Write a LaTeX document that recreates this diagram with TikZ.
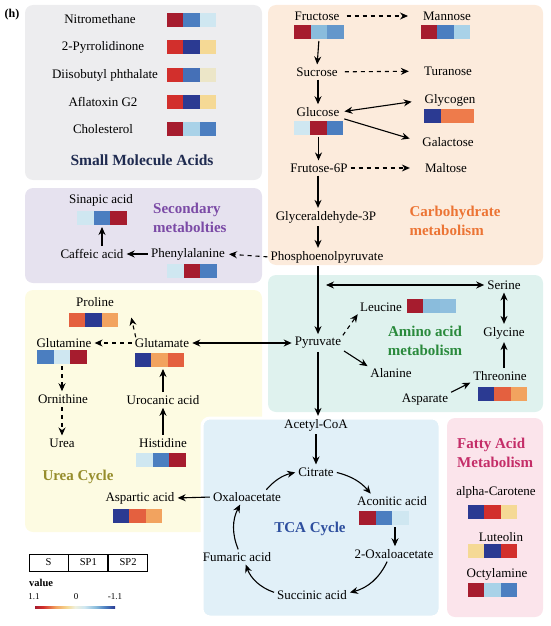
\documentclass[tikz,border=0pt]{standalone}
\usepackage{fontspec}
\setmainfont{Liberation Serif}
\usetikzlibrary{arrows.meta,positioning,calc}
% panel fills
\definecolor{PanelGray}{HTML}{EDEDEF}
\definecolor{PanelPeach}{HTML}{FCEBDC}
\definecolor{PanelLilac}{HTML}{E6E2EF}
\definecolor{PanelCream}{HTML}{FDFBE2}
\definecolor{PanelMint}{HTML}{DFF2EE}
\definecolor{PanelSky}{HTML}{E1F0F8}
\definecolor{PanelPink}{HTML}{FBE4EB}
% group titles
\definecolor{TitleNavy}{HTML}{1F2B50}
\definecolor{TitleOrange}{HTML}{EC7434}
\definecolor{TitlePurple}{HTML}{7B4AA6}
\definecolor{TitleGreen}{HTML}{2A8A3C}
\definecolor{TitleOlive}{HTML}{968D2C}
\definecolor{TitleBlue}{HTML}{2D4E9E}
\definecolor{TitleMagenta}{HTML}{C42D68}
% heat cells
\definecolor{HeatDR}{HTML}{A61C2E}
\definecolor{HeatR}{HTML}{D22F2C}
\definecolor{HeatOR}{HTML}{E4603F}
\definecolor{HeatO}{HTML}{EE7B4B}
\definecolor{HeatLO}{HTML}{F2A35F}
\definecolor{HeatPY}{HTML}{F5D995}
\definecolor{HeatVY}{HTML}{ECE6C8}
\definecolor{HeatMid}{HTML}{EEF0DE}
\definecolor{HeatVB}{HTML}{CFE7F1}
\definecolor{HeatLB}{HTML}{A9D2E8}
\definecolor{HeatSB}{HTML}{8ABCDC}
\definecolor{HeatMB}{HTML}{4B7EC0}
\definecolor{HeatDB}{HTML}{2B3A92}
\pgfdeclarehorizontalshading{rdylbu}{10bp}{color(0bp)=(HeatDR); color(25bp)=(HeatDR); color(30bp)=(HeatR); color(38bp)=(HeatLO); color(45bp)=(HeatPY); color(50bp)=(HeatMid); color(56bp)=(HeatVB); color(63bp)=(HeatSB); color(69bp)=(HeatMB); color(75bp)=(HeatDB); color(100bp)=(HeatDB)}
% three-cell heat strip: name, x, y, S, SP1, SP2
\newcommand{\heatrow}[6]{%
  \node[heatcell, fill=#4] (#1-a) at (#2-16.5,#3) {};
  \node[heatcell, fill=#5] (#1) at (#2,#3) {};
  \node[heatcell, fill=#6] (#1-c) at (#2+16.5,#3) {};}

\begin{document}
\begin{tikzpicture}[x=1pt,y=-1pt,
    met/.style={font=\fontsize{13}{15}\selectfont, inner sep=1pt},
    grp/.style={font=\bfseries\fontsize{15}{19}\selectfont, align=left, inner sep=1pt},
    heatcell/.style={minimum width=16.6pt, minimum height=14pt, inner sep=0pt, outer sep=0pt},
    arr/.style={-{Stealth[length=8pt,width=7pt]}, line width=1.1pt, shorten <=2pt, shorten >=2pt},
    darr/.style={arr, dash pattern=on 4pt off 4pt},
    barr/.style={{Stealth[length=8pt,width=7pt]}-{Stealth[length=8pt,width=7pt]}, line width=1.1pt, shorten <=2pt, shorten >=2pt},
    legcell/.style={draw, line width=0.8pt, minimum width=39pt, minimum height=17pt, inner sep=0pt, font=\fontsize{10.5}{12}\selectfont}]
  \useasboundingbox (0,0) rectangle (550,626);

  % panels
  \fill[PanelGray, rounded corners=8pt] (25,5) rectangle (262,180);
  \fill[PanelPeach, rounded corners=8pt] (268,5) rectangle (543,265);
  \fill[PanelLilac, rounded corners=8pt] (25,188) rectangle (262,283);
  \fill[PanelCream, rounded corners=8pt] (25,290) rectangle (262,532);
  \fill[PanelMint, rounded corners=8pt] (268,275) rectangle (543,412);
  \filldraw[fill=PanelSky, draw=white, line width=3pt, rounded corners=8pt] (202,418) rectangle (440,617);
  \fill[PanelPink, rounded corners=8pt] (447,418) rectangle (543,617);

  \node[font=\bfseries\fontsize{12}{14}\selectfont] (tag) at (12,15) {(h)};

  % small molecule acids
  \node[met] (nitro) at (100,19) {Nitromethane};
  \node[met] (pyrro) at (103,47) {2-Pyrrolidinone};
  \node[met] (dibp) at (105,75) {Diisobutyl phthalate};
  \node[met] (afla) at (103,102) {Aflatoxin G2};
  \node[met] (chol) at (103,129) {Cholesterol};
  \heatrow{nitro-h}{191.5}{20}{HeatDR}{HeatMB}{HeatVB}
  \heatrow{pyrro-h}{191.5}{47}{HeatR}{HeatDB}{HeatPY}
  \heatrow{dibp-h}{191.5}{75}{HeatR}{HeatMB!80!HeatDB}{HeatVY}
  \heatrow{afla-h}{191.5}{102}{HeatR}{HeatDB}{HeatPY}
  \heatrow{chol-h}{191.5}{129}{HeatDR}{HeatLB}{HeatMB}
  \node[grp, font=\bfseries\fontsize{15.5}{19}\selectfont, text=TitleNavy] (t-sma) at (142,160) {Small Molecule Acids};

  % carbohydrate metabolism
  \node[met] (fru) at (317,16) {Fructose};
  \heatrow{fru-h}{319}{32}{HeatDR}{HeatSB}{HeatMB!60!HeatSB}
  \node[met] (man) at (447,16) {Mannose};
  \heatrow{man-h}{445.5}{32}{HeatDR}{HeatMB}{HeatLB}
  \node[met] (suc) at (317,72) {Sucrose};
  \node[met] (tur) at (448,71) {Turanose};
  \node[met] (glc) at (318,112) {Glucose};
  \heatrow{glc-h}{318.5}{127.5}{HeatVB}{HeatDR}{HeatMB}
  \node[met] (glyc) at (450,100) {Glycogen};
  \heatrow{glyc-h}{449}{115.5}{HeatDB}{HeatO}{HeatO}
  \node[met] (gal) at (448,142) {Galactose};
  \node[met] (f6p) at (319,168) {Frutose-6P};
  \node[met] (mal) at (446,168) {Maltose};
  \node[met] (g3p) at (326,217) {Glyceraldehyde-3P};
  \node[met] (pep) at (327,257) {Phosphoenolpyruvate};
  \node[grp, text=TitleOrange] (t-carb) at (455,221) {Carbohydrate\\metabolism};

  \draw[darr, shorten <=6pt, shorten >=14pt] (fru) -- (man);
  \draw[darr, shorten <=6pt, shorten >=14pt] (suc) -- (tur);
  \draw[darr, shorten <=2pt, shorten >=14pt] (f6p) -- (mal);
  \draw[arr] (fru-h.south) -- (suc.north);
  \draw[arr] (suc.south -| glc) -- (glc.north);
  \draw[barr, shorten <=4pt, shorten >=12pt] (glc.east) -- (glyc.west);
  \draw[arr, shorten <=4pt, shorten >=12pt] (glc.south east) -- (gal.west);
  \draw[arr] (glc-h.south) -- (glc-h.south |- f6p.north);
  \draw[arr] (f6p.south -| glc) -- (g3p.north -| glc);
  \draw[arr] (g3p.south -| glc) -- (pep.north -| glc);

  % secondary metabolites
  \node[met] (sin) at (101,200) {Sinapic acid};
  \heatrow{sin-h}{102}{218}{HeatVB}{HeatMB}{HeatDR}
  \node[met] (caf) at (92,254) {Caffeic acid};
  \node[met] (phe) at (188,254) {Phenylalanine};
  \heatrow{phe-h}{192}{270.5}{HeatVB}{HeatDR}{HeatMB}
  \node[grp, text=TitlePurple, anchor=west] (t-sec) at (152,218) {Secondary\\metabolties};
  \draw[arr] (caf.north -| sin-h) -- (sin-h.south);
  \draw[arr] (phe.west) -- (caf.east);
  \draw[darr, shorten >=3pt] (pep.west) -- (phe.east);

  % amino acid metabolism
  \node[met] (pyr) at (318,343) {Pyruvate};
  \node[met] (ser) at (504,285) {Serine};
  \node[met] (gly) at (504,333) {Glycine};
  \node[met] (thr) at (500,376) {Threonine};
  \heatrow{thr-h}{502.5}{393.5}{HeatDB}{HeatOR}{HeatLO}
  \node[met] (aspt) at (425,400) {Asparate};
  \node[met] (leu) at (381,307) {Leucine};
  \heatrow{leu-h}{431.5}{306}{HeatDR}{HeatSB}{HeatSB!85!HeatLB}
  \node[met] (ala) at (391,373) {Alanine};
  \node[grp, text=TitleGreen, align=center] (t-amino) at (425,341) {Amino acid\\metabolism};
  \coordinate (serlink) at (326,285);
  \draw[arr] (pep.south -| pyr) -- (pyr.north);
  \draw[barr, shorten <=0pt] (serlink) -- (ser.west);
  \draw[barr] (ser.south) -- (gly.north);
  \draw[arr] (thr.north -| gly) -- (gly.south);
  \draw[arr] (aspt.north east) -- (thr.south west);
  \draw[darr, shorten <=1pt] (pyr.north east) -- (leu.south west);
  \draw[arr] (pyr.south east) -- (ala.north west);

  % urea cycle
  \node[met] (pro) at (95,302) {Proline};
  \heatrow{pro-h}{93.5}{319.5}{HeatOR}{HeatDB}{HeatLO}
  \node[met] (gln) at (64,343) {Glutamine};
  \heatrow{gln-h}{62}{357}{HeatMB}{HeatVB}{HeatDR}
  \node[met] (glu) at (162,343) {Glutamate};
  \heatrow{glu-h}{159.5}{360}{HeatDB}{HeatLO}{HeatOR}
  \node[met] (orn) at (63,399) {Ornithine};
  \node[met] (urea) at (62,443) {Urea};
  \node[met] (uro) at (163,400) {Urocanic acid};
  \node[met] (his) at (163,443) {Histidine};
  \heatrow{his-h}{161}{460}{HeatVB}{HeatMB}{HeatDR}
  \node[grp, text=TitleOlive] (t-urea) at (78,477) {Urea Cycle};
  \node[met] (aspa) at (140,498) {Aspartic acid};
  \heatrow{aspa-h}{137.5}{515.5}{HeatDB}{HeatOR}{HeatLO}
  \draw[barr] (glu.east) -- (pyr.west);
  \draw[darr] (glu.west) -- (gln.east);
  \draw[darr, shorten <=0pt, shorten >=0pt] ([xshift=2pt]glu.north west) -- ([xshift=13pt,yshift=2pt]pro-h-c.east);
  \draw[darr] (gln-h.south) -- (gln-h.south |- orn.north);
  \draw[darr] (orn.south -| gln-h) -- (urea.north -| gln-h);
  \draw[arr] (uro.north) -- (uro.north |- glu-h.south);
  \draw[arr] (his.north) -- (uro.south);

  % TCA cycle
  \node[met] (acoa) at (316,425) {Acetyl-CoA};
  \node[met] (cit) at (316,472) {Citrate};
  \node[met] (oxa) at (247,497) {Oxaloacetate};
  \node[met] (aco) at (392,501) {Aconitic acid};
  \heatrow{aco-h}{384}{518}{HeatDR}{HeatMB}{HeatVB}
  \node[met] (oxg) at (394,554) {2-Oxaloacetate};
  \node[met] (succ) at (312,595) {Succinic acid};
  \node[met] (fum) at (237,557) {Fumaric acid};
  \node[grp, text=TitleBlue] (t-tca) at (310,529) {TCA Cycle};
  \draw[arr] (pyr.south) -- (pyr.south |- acoa.north);
  \draw[arr] (acoa.south) -- (cit.north);
  \draw[arr] (cit.east) to[bend left=18] ([xshift=-20pt]aco.north);
  \draw[arr] ([xshift=11pt]aco-h.south) -- ([xshift=11pt]aco-h.south |- oxg.north);
  \draw[arr] ([xshift=-6pt]oxg.south) to[bend left=25] ([yshift=2pt]succ.east);
  \draw[arr] ([yshift=2pt]succ.west) to[bend left=25] ([xshift=8pt]fum.south);
  \draw[arr] ([xshift=2pt]fum.north) to[bend left=25] ([xshift=-6pt]oxa.south);
  \draw[arr] ([xshift=18pt]oxa.north) to[bend left=18] (cit.west);
  \draw[arr] (oxa.west) -- (aspa.east);

  % fatty acid metabolism
  \node[grp, text=TitleMagenta, anchor=west] (t-fatty) at (456,453) {Fatty Acid\\Metabolism};
  \node[met] (alc) at (496,492) {alpha-Carotene};
  \heatrow{alc-h}{492.5}{511.5}{HeatDB}{HeatR}{HeatPY}
  \node[met] (lut) at (501,537) {Luteolin};
  \heatrow{lut-h}{492.5}{550.5}{HeatPY}{HeatDB}{HeatR}
  \node[met] (oct) at (497,574) {Octylamine};
  \heatrow{oct-h}{492.5}{590}{HeatDR}{HeatLB}{HeatMB}

  % legend
  \node[legcell] (lg-s) at (48.5,562.5) {S};
  \node[legcell, right=0pt of lg-s] (lg-sp1) {SP1};
  \node[legcell, right=0pt of lg-sp1] (lg-sp2) {SP2};
  \node[font=\bfseries\fontsize{10.5}{12}\selectfont, anchor=west, inner sep=0pt] (lg-val) at (29,583) {value};
  \node[font=\fontsize{9}{10}\selectfont, inner sep=0pt] (lg-hi) at (34,597) {1.1};
  \node[font=\fontsize{9}{10}\selectfont, inner sep=0pt] (lg-mid) at (76,597) {0};
  \node[font=\fontsize{9}{10}\selectfont, inner sep=0pt] (lg-lo) at (115,597) {-1.1};
  \shade[shading=rdylbu] (35,602) rectangle (115,612);
\end{tikzpicture}
\end{document}
